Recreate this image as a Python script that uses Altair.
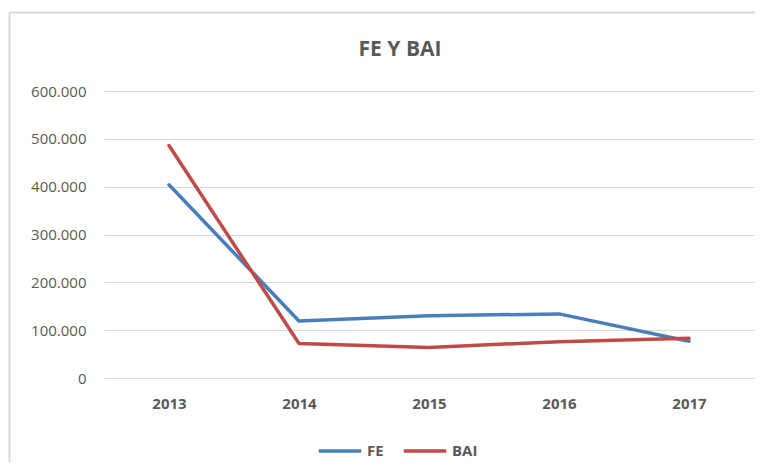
import altair as alt
import pandas as pd

years = ["2013", "2014", "2015", "2016", "2017"]
fe = [404000, 119000, 130000, 134000, 77000]
bai = [486000, 72000, 64000, 76000, 83000]
series = ["FE", "BAI"]
colors = ["#4A7EBB", "#BE4B48"]
title_text = ["FE Y BAI"]

rows = []
for y, v in zip(years, fe):
    rows.append({"year": y, "value": v, "serie": "FE"})
for y, v in zip(years, bai):
    rows.append({"year": y, "value": v, "serie": "BAI"})
df = pd.DataFrame(rows)

lines = alt.Chart(df).mark_line(strokeWidth=3.5, strokeCap="round", strokeJoin="round").encode(
    x=alt.X("year:N", sort=years, title=None,
            scale=alt.Scale(paddingOuter=0.5),
            axis=alt.Axis(labelAngle=0, labelFontWeight="bold", labelFontSize=15,
                          labelColor="#595959", labelPadding=18, ticks=False,
                          domain=False, grid=False, labelFont="Open Sans")),
    y=alt.Y("value:Q", title=None,
            scale=alt.Scale(domain=[0, 600000], nice=False),
            axis=alt.Axis(values=[0, 100000, 200000, 300000, 400000, 500000, 600000],
                          labelExpr="replace(format(datum.value, ',d'), /,/g, '.')",
                          labelFontSize=15, labelColor="#595959", labelPadding=18,
                          ticks=False, domain=False, gridColor="#D9D9D9",
                          gridWidth=1.2, labelFont="Open Sans")),
    color=alt.Color("serie:N", sort=series,
                    scale=alt.Scale(domain=series, range=colors),
                    legend=alt.Legend(title=None, orient="none", direction="horizontal",
                                      legendX=213, legendY=337,
                                      symbolType="stroke", symbolSize=1800,
                                      symbolStrokeWidth=3.5, labelFontSize=15,
                                      labelFontWeight="bold", labelColor="#595959",
                                      columnPadding=12, labelOffset=4,
                                      labelFont="Open Sans")),
)

frame_df = pd.DataFrame({"k": [0]})
frame_left = alt.Chart(frame_df).mark_rule(color="#D9D9D9", strokeWidth=2).encode(
    x=alt.value(-94.5), y=alt.value(-78.5), y2=alt.value(371))
frame_top = alt.Chart(frame_df).mark_rule(color="#D9D9D9", strokeWidth=2).encode(
    x=alt.value(-94.5), x2=alt.value(651), y=alt.value(-78.5))

title = alt.Chart(pd.DataFrame({"t": title_text})).mark_text(
    fontSize=21, fontWeight="bold", color="#595959", font="Open Sans",
    align="center", baseline="middle"
).encode(text="t:N", x=alt.value(296), y=alt.value(-41))

chart = alt.layer(frame_left, frame_top, title, lines).properties(
    width=650, height=287,
    autosize=alt.AutoSizeParams(type="none"),
    padding={"left": 96, "top": 83, "right": 1, "bottom": 84},
).configure(background="white").configure_view(stroke=None)

chart.save("out.html", embed_options={"renderer": "svg", "actions": False})
